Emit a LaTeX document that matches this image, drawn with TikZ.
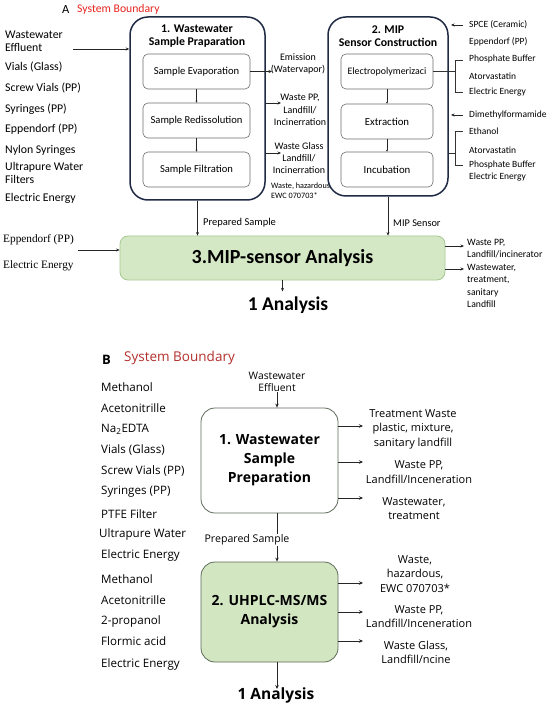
\documentclass[tikz,border=0pt]{standalone}
\usepackage{fontspec}
\setmainfont{Carlito}
\newfontfamily\fa{Carlito}
\newfontfamily\fb{Open Sans}
\newfontfamily\fser{Liberation Serif}
\usetikzlibrary{arrows.meta}
\definecolor{navy}{HTML}{1F2A44}
\definecolor{ibord}{HTML}{6E6E6E}
\definecolor{gfill}{HTML}{D5E8C6}
\definecolor{gbord}{HTML}{A6C990}
\definecolor{bgfill}{HTML}{D3E6C2}
\definecolor{bgbord}{HTML}{5E6B58}
\definecolor{redA}{HTML}{E8251F}
\definecolor{redB}{HTML}{B3302C}
\newcommand\fsz[2]{\fontsize{#1}{#2}\selectfont}
\tikzset{
  arr/.style={draw=black!85, line width=0.6pt, -{Stealth[length=3.5pt,width=3pt]}},
  arrB/.style={draw=black!85, line width=0.7pt, -{Stealth[length=4pt,width=3.5pt]}},
  plain/.style={draw=black!80, line width=0.6pt},
  abox/.style={draw=navy, line width=1.5pt, rounded corners=18pt, fill=white},
  ibox/.style={draw=ibord, line width=0.6pt, rounded corners=5pt, fill=white, font={\fa\fsz{10.6}{12}}, inner sep=0pt},
  lstA/.style={anchor=west, inner sep=0pt, font={\fa\fsz{11.8}{13}}, align=left},
  rlA/.style={anchor=west, inner sep=0pt, font={\fa\fsz{9.5}{12}}, align=left},
  ttlA/.style={inner sep=0pt, font={\fa\bfseries\fsz{11.8}{12.5}}, align=center},
  outA/.style={inner sep=0pt, font={\fa\fsz{10}{12.3}}, align=center},
  smA/.style={inner sep=0pt, font={\fa\fsz{8.2}{10}}, align=left},
  lstB/.style={anchor=west, inner sep=0pt, font={\fb\fsz{11.6}{13}}},
  outB/.style={inner sep=0pt, font={\fb\fsz{11}{14.5}}, align=center},
}
\begin{document}
\begin{tikzpicture}[x=1pt,y=-1pt]
\path[use as bounding box, fill=white] (0,0) rectangle (550,708);

% ---------------- Part A ----------------
\node[inner sep=0pt, anchor=west, font={\fa\fsz{12.5}{13}}] (hA) at (62,9) {A};
\node[inner sep=0pt, anchor=west, font={\fa\fsz{11.7}{13}}, text=redA] (sbA) at (77,9) {System Boundary};

\node[lstA] (l1) at (5,41) {Wastewater\\Effluent};
\node[lstA] (l2) at (5,67) {Vials (Glass)};
\node[lstA] (l3) at (5,88) {Screw Vials (PP)};
\node[lstA] (l4) at (5,109) {Syringes (PP)};
\node[lstA] (l5) at (5,129) {Eppendorf (PP)};
\node[lstA] (l6) at (5,150) {Nylon Syringes};
\node[lstA] (l7) at (5,173) {Ultrapure Water\\Filters};
\node[lstA] (l8) at (5,198) {Electric Energy};

\node[abox, minimum width=135, minimum height=183] (b1) at (197.5,108.5) {};
\node[ttlA] (t1) at (197,36) {1. Wastewater\\Sample Praparation};
\node[ibox, minimum width=107, minimum height=35] (b1a) at (196.5,71.5) {Sample Evaporation};
\node[ibox, minimum width=107, minimum height=35] (b1b) at (196.5,120.5) {Sample Redissolution};
\node[ibox, minimum width=107, minimum height=35] (b1c) at (196.5,169.5) {Sample Filtration};
\draw[arr, -{Stealth[length=2pt,width=2pt]}] (b1a) -- (b1b);
\draw[arr, -{Stealth[length=2pt,width=2pt]}] (b1b) -- (b1c);

\coordinate (inA) at (73,49);
\draw[arr] (inA) -- (b1.west |- inA);

\node[outA] (em) at (298,64) {Emission\\(Watervapor)};
\coordinate (emE) at (272,71.5);
\draw[arr] (b1a.east) -- (emE);
\node[outA] (wpp) at (300,110) {Waste PP,\\Landfill/\\Incinerration};
\coordinate (wppE) at (281,103);
\draw[arr] (b1.east |- wppE) -- (wppE);
\node[outA] (wgl) at (299,158) {Waste Glass\\Landfill/\\Incinerration};
\coordinate (wglE) at (281,153);
\draw[arr] (b1.east |- wglE) -- (wglE);
\node[smA, anchor=west] (wh) at (271,191) {Waste, hazardous\\EWC 070703*};

\node[abox, minimum width=120, minimum height=179] (b2) at (388,106.5) {};
\node[ttlA] (t2) at (388,36) {2. MIP\\Sensor Construction};
\node[ibox, minimum width=92, minimum height=35, font={\fa\fsz{9.9}{12}}] (b2a) at (387,71.5) {Electropolymerizaci};
\node[ibox, minimum width=92, minimum height=35, font={\fa\fsz{10.8}{12}}] (b2b) at (387,121.5) {Extraction};
\node[ibox, minimum width=92, minimum height=35, font={\fa\fsz{10.8}{12}}] (b2c) at (387,169.5) {Incubation};
\draw[arr, -{Stealth[length=2pt,width=2pt]}] (b2a) -- (b2b);
\draw[arr, -{Stealth[length=2pt,width=2pt]}] (b2b) -- (b2c);

\node[rlA] (r1) at (469,25) {SPCE (Ceramic)};
\node[rlA] (r2) at (469,42) {Eppendorf (PP)};
\node[rlA] (r3) at (469,59) {Phosphate Buffer};
\node[rlA] (r4) at (469,76) {Atorvastatin};
\node[rlA] (r5) at (469,92) {Electric Energy};
\node[rlA] (r6) at (469,115) {Dimethylformamide};
\node[rlA] (r7) at (469,131) {Ethanol};
\node[rlA] (r8) at (469,150) {Atorvastatin};
\node[rlA, font={\fa\fsz{9.5}{11.5}}] (r9) at (469,171) {Phosphate Buffer\\Electric Energy};

\coordinate (spE) at (451,25);
\coordinate (spS) at (463,25);
\draw[arr] (spS) -- (spE);
\coordinate (dmE) at (451,115);
\coordinate (dmS) at (463,115);
\draw[arr] (dmS) -- (dmE);
\coordinate (k1t) at (455,60);
\coordinate (k1b) at (455,92);
\draw[plain] (b2a.east) -- (b2a.east -| k1t);
\draw[plain] ([xshift=8pt]k1t) -- (k1t) -- (k1b) -- ([xshift=8pt]k1b);
\coordinate (k2t) at (455,131);
\coordinate (k2b) at (455,165);
\coordinate (k2m) at (455,153);
\draw[plain] (b2.east |- k2m) -- (k2m);
\draw[plain] ([xshift=8pt]k2t) -- (k2t) -- (k2b) -- ([xshift=8pt]k2b);

\node[draw=gbord, fill=gfill, line width=0.8pt, rounded corners=8pt, minimum width=325, minimum height=44, inner sep=0pt, font={\fa\bfseries\fsz{20}{22}}] (b3) at (282.5,258) {3.MIP-sensor Analysis};
\draw[arr] (b1.south) -- (b1.south |- b3.north);
\node[inner sep=0pt, anchor=west, font={\fa\fsz{10.5}{11}}] (ps) at (203,223) {Prepared Sample};
\draw[arr] (b2.south) -- (b2.south |- b3.north);
\node[inner sep=0pt, anchor=west, font={\fa\fsz{10.3}{11}}] (ms) at (393,223) {MIP Sensor};

\node[inner sep=0pt, anchor=west, font={\fser\fsz{11.3}{12}}] (e1) at (3,240) {Eppendorf (PP)};
\node[inner sep=0pt, anchor=west, font={\fser\fsz{11.3}{12}}] (e2) at (3,266) {Electric Energy};
\coordinate (in3) at (78,250);
\draw[arr] (in3) -- (b3.west |- in3);

\coordinate (o1) at (464,246);
\coordinate (o2) at (464,269);
\draw[arr] (b3.east |- o1) -- (o1);
\draw[arr] (b3.east |- o2) -- (o2);
\node[smA, anchor=north west, font={\fa\fsz{9.7}{12.3}}] (ot1) at (467,239) {Waste PP,\\Landfill/incinerator};
\node[smA, anchor=north west, font={\fa\fsz{9.7}{12.3}}] (ot2) at (467,264) {Wastewater,\\treatment,\\sanitary\\Landfill};

\node[inner sep=0pt, font={\fa\bfseries\fsz{19.5}{20}}] (anA) at (288,305) {1 Analysis};
\draw[arr, shorten >=5pt] (b3.south) -- (b3.south |- anA.north);

% ---------------- Part B ----------------
\node[inner sep=0pt, anchor=west, font={\fb\bfseries\fsz{13}{14}}] (hB) at (102,360) {B};
\node[inner sep=0pt, anchor=west, font={\fb\fsz{13.5}{14}}, text=redB] (sbB) at (124,358) {System Boundary};

\node[lstB] (m1) at (101,387) {Methanol};
\node[lstB] (m2) at (101,408) {Acetonitrille};
\node[lstB] (m3) at (101,429) {Na\textsubscript{2}EDTA};
\node[lstB] (m4) at (101,450) {Vials (Glass)};
\node[lstB] (m5) at (101,471) {Screw Vials (PP)};
\node[lstB] (m6) at (101,492) {Syringes (PP)};
\node[lstB] (m7) at (101,514) {PTFE Filter};
\node[lstB] (m8) at (99,534) {Ultrapure Water};
\node[lstB] (m9) at (101,555) {Electric Energy};
\node[lstB] (n1) at (101,579) {Methanol};
\node[lstB] (n2) at (101,600) {Acetonitrille};
\node[lstB] (n3) at (101,621) {2-propanol};
\node[lstB] (n4) at (101,641) {Flormic acid};
\node[lstB] (n5) at (101,664) {Electric Energy};

\node[inner sep=0pt, align=center, font={\fb\fsz{10.3}{12.5}}] (eff) at (277,382) {Wastewater\\Effluent};
\node[draw=bgbord, line width=0.8pt, rounded corners=14pt, fill=white, minimum width=137, minimum height=105, inner sep=0pt, align=center, font={\fb\bfseries\fsz{14}{19}}] (B1) at (269.5,460.5) {1. Wastewater\\Sample\\Preparation};
\draw[arrB] (eff.south) -- (eff.south |- B1.north);

\node[draw=bgbord, line width=0.8pt, rounded corners=14pt, fill=bgfill, minimum width=137, minimum height=100, inner sep=0pt, align=center, font={\fb\bfseries\fsz{14}{19}}] (B2) at (269.5,612) {2. UHPLC-MS/MS\\Analysis};
\draw[arrB] (B1.south -| eff.south) -- (B2.north -| eff.south);
\node[inner sep=1pt, fill=white, font={\fb\fsz{10.6}{11}}] (psB) at (247,540) {Prepared Sample};

\coordinate (q1) at (363,426);
\coordinate (q2) at (363,462);
\coordinate (q3) at (363,498);
\draw[arrB] (B1.east |- q1) -- (q1);
\draw[arrB] (B1.east |- q2) -- (q2);
\draw[arrB] (B1.east |- q3) -- (q3);
\node[outB] (u1) at (413,429) {Treatment Waste\\plastic, mixture,\\sanitary landfill};
\node[outB] (u2) at (419,472) {Waste PP,\\Landfill/Inceneration};
\node[outB] (u3) at (414,508.5) {Wastewater,\\treatment};

\coordinate (p1) at (363,583);
\coordinate (p2) at (363,612);
\coordinate (p3) at (363,641);
\draw[arrB] (B2.east |- p1) -- (p1);
\draw[arrB] (B2.east |- p2) -- (p2);
\draw[arrB] (B2.east |- p3) -- (p3);
\node[outB] (v1) at (415,574) {Waste,\\hazardous,\\EWC 070703*};
\node[outB] (v2) at (419,616.5) {Waste PP,\\Landfill/Inceneration};
\node[outB] (v3) at (416,652.5) {Waste Glass,\\Landfill/ncine};

\node[inner sep=0pt, font={\fb\bfseries\fsz{15.5}{16}}] (anB) at (276,695) {1 Analysis};
\draw[arrB] (B2.south -| eff.south) -- ([yshift=-2pt]anB.north -| eff.south);
\end{tikzpicture}
\end{document}
